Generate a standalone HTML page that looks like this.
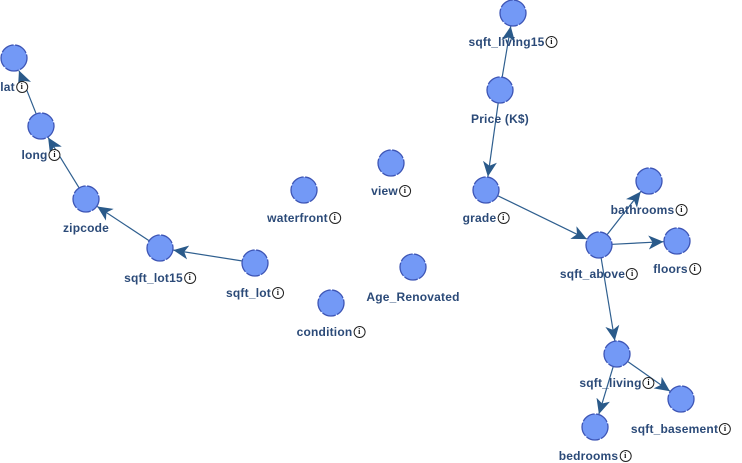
<!DOCTYPE html>
<html><head><meta charset="utf-8"><style>
body{margin:0;width:742px;height:463px;background:#fff;position:relative;overflow:hidden;font-family:"Liberation Sans",sans-serif}
svg{position:absolute;left:0;top:0}
.l{position:absolute;transform:translateX(-50%);white-space:nowrap;font-size:12px;font-weight:bold;color:#2b4a78;display:flex;align-items:center;line-height:14px;letter-spacing:0.2px}
.i{display:inline-block;width:10px;height:10px;border:1px solid #222;border-radius:50%;font-size:8px;line-height:10px;text-align:center;color:#111;background:#fff;margin-left:1px;font-weight:bold;font-family:"Liberation Serif",serif}
</style></head><body>
<svg width="742" height="463" id="s">
<defs><marker id="a" markerWidth="16" markerHeight="14" refX="15" refY="7" orient="auto" markerUnits="userSpaceOnUse"><path d="M0,0 L15,7 L0,14 L4,7 Z" fill="#2a5a8a"/></marker></defs>
<g id="e" stroke="#2f5f8f" stroke-width="1.2"></g>
<g id="n" fill="#7399f6" stroke="#3d55b5" stroke-width="1.3" stroke-dasharray="14 1.5"></g>
</svg>
<div id="L"></div>
<script>
var N={lat:[14,58,"lat",86],long:[41,126,"long",154],zip:[86,199,"zipcode",227,1],l15:[160,248,"sqft_lot15",277],lot:[255,263,"sqft_lot",292],cond:[331,303,"condition",331],age:[413,267,"Age_Renovated",296,1],wf:[304,190,"waterfront",217],view:[391,163,"view",190],sl15:[513,13,"sqft_living15",41],price:[500,90,"Price (K$)",118,1],grade:[486,190,"grade",217],bath:[649,181,"bathrooms",209],above:[599,245,"sqft_above",273],floors:[677,241,"floors",268],living:[617,354,"sqft_living",382],base:[681,399,"sqft_basement",428],bed:[595,427,"bedrooms",455]};
var E=[["long","lat"],["zip","long"],["l15","zip"],["lot","l15"],["price","sl15"],["price","grade"],["grade","above"],["above","bath"],["above","floors"],["above","living"],["living","bed"],["living","base"]];
var ns="http://www.w3.org/2000/svg",eg=document.getElementById("e"),ng=document.getElementById("n"),L=document.getElementById("L");
E.forEach(function(p){var a=N[p[0]],b=N[p[1]],dx=b[0]-a[0],dy=b[1]-a[1],d=Math.hypot(dx,dy),r=13.5;
var l=document.createElementNS(ns,"line");l.setAttribute("x1",a[0]+dx/d*r);l.setAttribute("y1",a[1]+dy/d*r);l.setAttribute("x2",b[0]-dx/d*r);l.setAttribute("y2",b[1]-dy/d*r);l.setAttribute("marker-end","url(#a)");eg.appendChild(l);});
for(var k in N){var v=N[k];var c=document.createElementNS(ns,"circle");c.setAttribute("cx",v[0]);c.setAttribute("cy",v[1]);c.setAttribute("r",13);ng.appendChild(c);
var d=document.createElement("div");d.className="l";d.style.left=v[0]+"px";d.style.top=(v[3]-6)+"px";d.innerHTML=v[2]+(v[4]?"":'<span class="i">i</span>');L.appendChild(d);}
</script>
</body></html>
